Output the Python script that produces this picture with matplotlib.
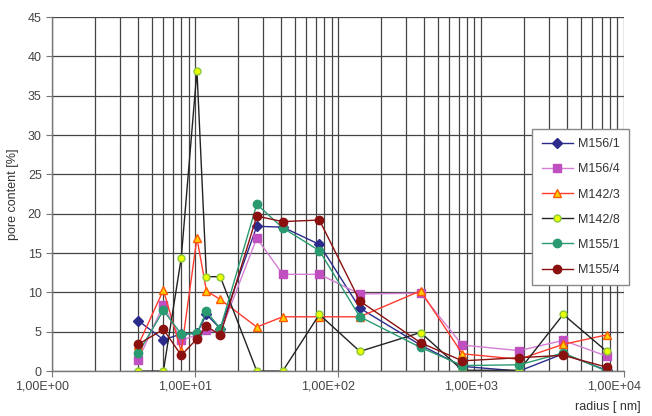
import numpy as np
import matplotlib.pyplot as plt
from matplotlib.ticker import FixedLocator, NullFormatter
from matplotlib.transforms import ScaledTranslation

plt.rcParams['font.family'] = ['Liberation Sans', 'DejaVu Sans']

# radius classes [nm]
radius = [4, 6, 8, 10.3, 12, 15, 27, 41, 74, 142, 378, 740, 1850, 3760, 7570]

m156_1 = [6.4, 4.0, 4.7, 4.8, 7.2, 5.4, 18.4, 18.3, 16.1, 8.0, 3.3, 0.6, 0.0, 2.2, 0.1]
m156_4 = [1.4, 8.4, 3.9, 4.6, 5.2, 4.9, 16.9, 12.3, 12.3, 9.8, 9.9, 3.3, 2.6, 3.9, 1.9]
m142_3 = [3.3, 10.3, 2.5, 16.9, 10.2, 9.1, 5.6, 6.9, 6.9, 6.9, 10.2, 2.2, 1.5, 3.4, 4.6]
m142_8 = [0.0, 0.0, 14.4, 38.2, 12.0, 12.0, 0.0, 0.0, 7.2, 2.5, 4.9, 0.1, 0.1, 7.2, 2.5]
m155_1 = [2.3, 7.7, 4.7, 4.8, 7.6, 5.4, 21.2, 18.2, 15.3, 6.9, 3.0, 0.7, 0.8, 2.3, 0.0]
m155_4 = [3.4, 5.3, 2.0, 4.1, 5.7, 4.6, 19.7, 19.0, 19.2, 8.9, 3.6, 1.3, 1.7, 2.0, 0.5]

fig = plt.figure(figsize=(6.52, 4.16), dpi=100)
ax = fig.add_axes([0.080, 0.108, 0.877, 0.851])

# Gitter
ax.set_xscale('log')
ax.set_xlim(1, 1e4)
ax.set_ylim(0, 45)
ax.set_yticks(np.arange(0, 46, 5))
ax.xaxis.set_major_locator(FixedLocator([1, 10, 100, 1000, 10000]))
minors = [m * 10 ** d for d in range(4) for m in range(2, 10)]
ax.xaxis.set_minor_locator(FixedLocator(minors))
ax.xaxis.set_minor_formatter(NullFormatter())
ax.set_xticklabels(['1,00E+00', '1,00E+01', '1,00E+02', '1,00E+03', '1,00E+04'])
ax.grid(True, which='both', axis='x', color='#444444', linewidth=0.9)
ax.grid(True, which='major', axis='y', color='#444444', linewidth=0.9)
ax.set_axisbelow(True)

for s in ['top', 'right']:
    ax.spines[s].set_visible(False)
for s in ['left', 'bottom']:
    ax.spines[s].set_color('#777777')
    ax.spines[s].set_linewidth(1.0)

ax.tick_params(axis='both', which='major', direction='out', length=4, color='#777777',
               labelsize=9, labelcolor='#444444')
ax.tick_params(axis='x', which='minor', length=0)
ax.tick_params(axis='x', pad=3)

# Beschriftungen etwas nach links wie im Original
shift = ScaledTranslation(-7 / 72, 0, fig.dpi_scale_trans)
for lbl in ax.get_xticklabels():
    lbl.set_transform(lbl.get_transform() + shift)

# Serien
ax.plot(radius, m156_1, color='#2b2b8c', marker='D', markersize=5, linewidth=1.0, label='M156/1')
ax.plot(radius, m156_4, color='#d47fd4', marker='s', markersize=6, linewidth=1.0,
        markerfacecolor='#c050c0', markeredgecolor='#c050c0', label='M156/4')
ax.plot(radius, m142_3, color='#ff3b2f', marker='^', markersize=6, linewidth=1.0,
        markerfacecolor='#ffd000', markeredgecolor='#ff5a00', label='M142/3')
ax.plot(radius, m142_8, color='#222222', marker='o', markersize=5, linewidth=1.0,
        markerfacecolor='#e8ff00', markeredgecolor='#8cc83c', label='M142/8')
ax.plot(radius, m155_1, color='#2a9a70', marker='o', markersize=6, linewidth=1.0, label='M155/1')
ax.plot(radius, m155_4, color='#8b1010', marker='o', markersize=6, linewidth=1.0, label='M155/4')

ax.set_ylabel('pore content [%]', fontsize=9, color='#333333', labelpad=6)
fig.text(0.982, 0.008, 'radius [ nm]', ha='right', va='bottom', fontsize=9, color='#333333')

leg = ax.legend(loc='upper right', bbox_to_anchor=(1.009, 0.684), borderaxespad=0,
                fontsize=9, labelspacing=1.05, handlelength=2.5, handletextpad=0.4,
                borderpad=0.75, fancybox=False, framealpha=1, edgecolor='#888888')
leg.get_frame().set_linewidth(1.0)
for t in leg.get_texts():
    t.set_color('#333333')

fig.savefig('out.png', dpi=100)
